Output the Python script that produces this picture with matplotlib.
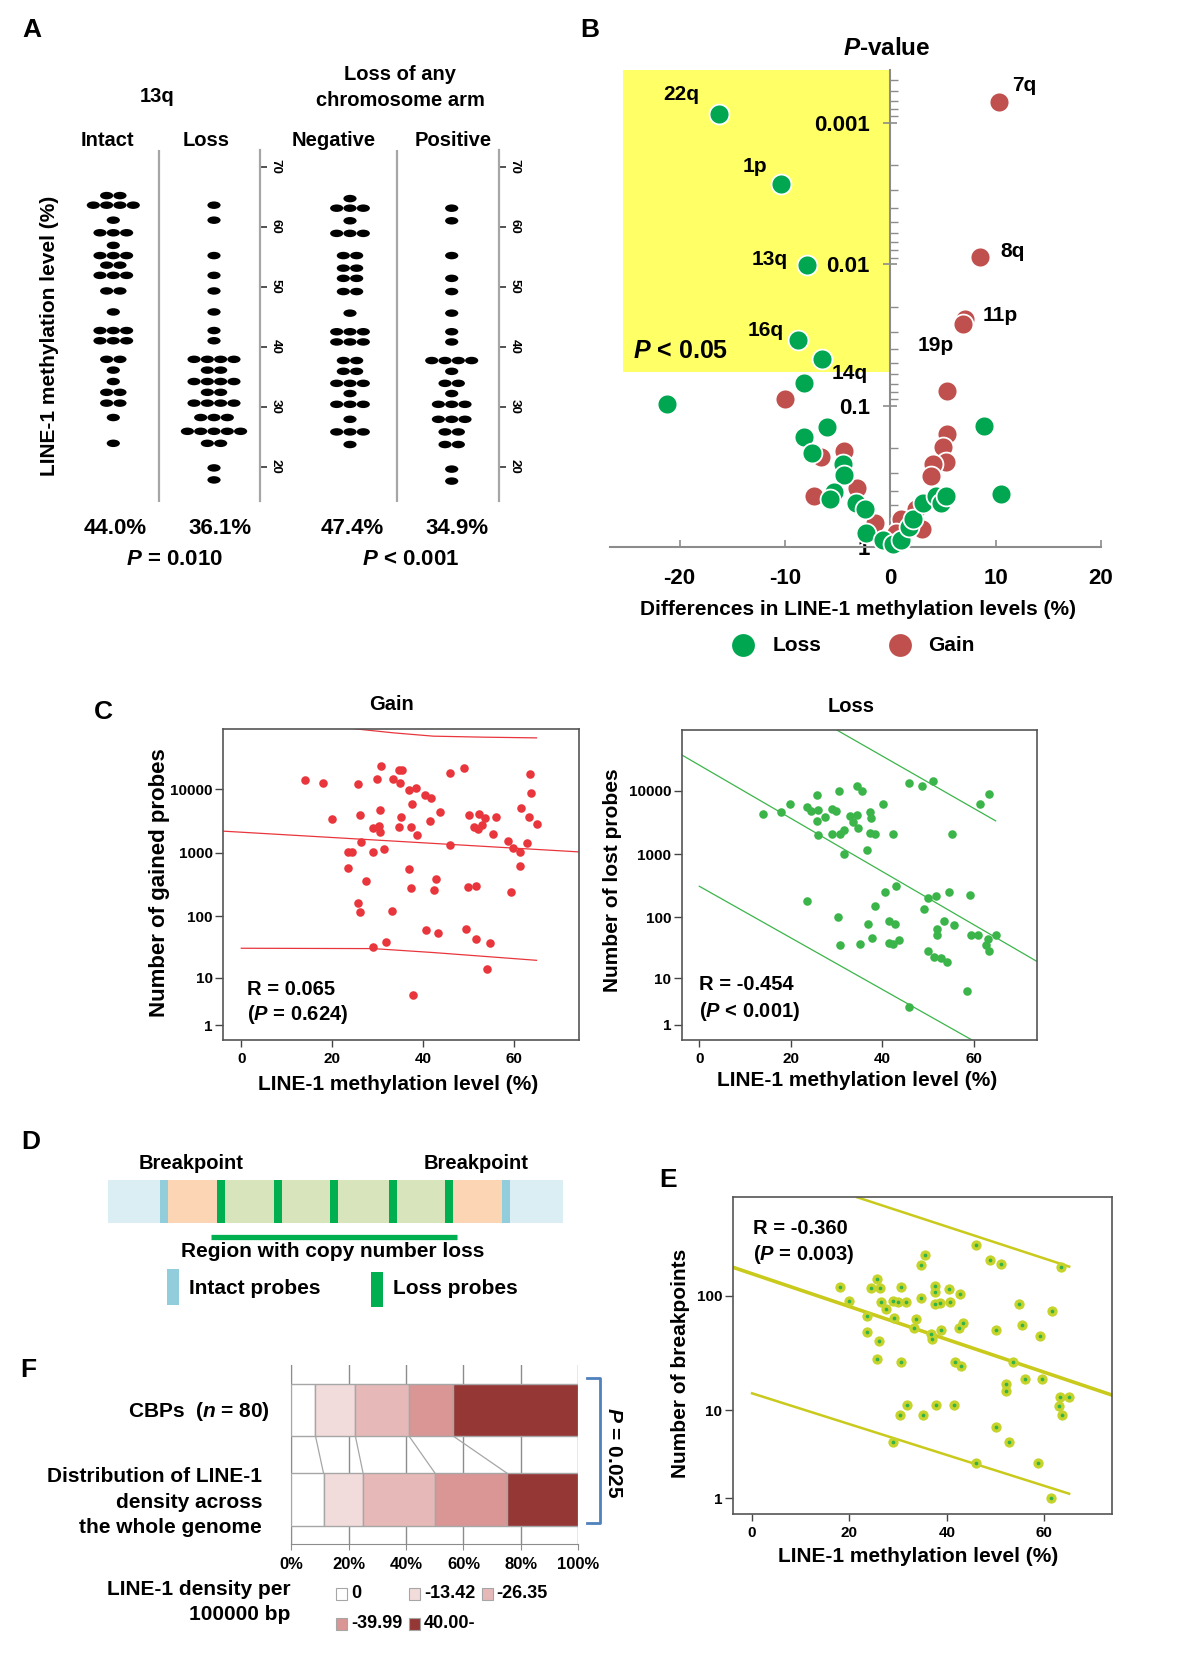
import numpy as np
import matplotlib
matplotlib.use('Agg')
import matplotlib.pyplot as plt
from matplotlib.patches import Ellipse, Rectangle
from matplotlib.ticker import LogLocator, NullFormatter

plt.rcParams['font.family'] = ['Liberation Sans', 'DejaVu Sans']
plt.rcParams['font.weight'] = 'bold'
plt.rcParams['axes.unicode_minus'] = False
plt.rcParams['mathtext.fontset'] = 'custom'
plt.rcParams['mathtext.it'] = 'Liberation Sans:italic:bold'
plt.rcParams['mathtext.rm'] = 'Liberation Sans:bold'
plt.rcParams['mathtext.bf'] = 'Liberation Sans:bold'

# ---------------- data ----------------
# A: dot plots (methylation level of each row, number of patients in the row)
intact_lv = [65.2, 63.6, 61.1, 59.0, 56.9, 55.2, 53.6, 51.9, 49.3, 45.8, 42.7, 41.0, 37.9, 36.1, 34.2, 32.4, 30.6, 28.2, 23.9]
intact_n = [2, 4, 1, 3, 1, 3, 2, 3, 2, 1, 3, 3, 2, 1, 1, 2, 2, 1, 1]
loss13_lv = [63.6, 61.1, 55.2, 51.9, 49.3, 45.8, 42.7, 41.0, 37.9, 36.1, 34.2, 32.4, 30.6, 28.2, 25.9, 23.9, 19.8, 17.8]
loss13_n = [1, 1, 1, 1, 1, 1, 1, 1, 4, 2, 4, 2, 4, 3, 5, 2, 1, 1]
neg_lv = [64.7, 63.1, 61.0, 58.9, 55.2, 53.1, 51.4, 49.2, 45.6, 42.5, 40.8, 37.7, 35.9, 33.9, 32.2, 30.4, 27.9, 25.8, 23.7]
neg_n = [1, 3, 1, 3, 2, 2, 2, 2, 1, 3, 3, 2, 2, 3, 1, 3, 1, 3, 1]
pos_lv = [63.1, 61.0, 55.2, 51.4, 49.2, 45.6, 42.5, 40.8, 37.7, 35.9, 33.9, 32.2, 30.4, 27.9, 25.8, 23.7, 19.6, 17.6]
pos_n = [1, 1, 1, 1, 1, 1, 1, 1, 4, 1, 2, 1, 3, 3, 2, 2, 1, 1]
A_groups = ['Intact', 'Loss', 'Negative', 'Positive']
A_means = ['44.0%', '36.1%', '47.4%', '34.9%']

# B: volcano plot (difference in LINE-1 methylation, P-value)
loss_diff = [-16.3, -10.4, -7.9, -8.8, -6.5, -8.2, -21.2, -6.0, -8.2, -7.4, -4.5, -4.4, -5.3, -5.7,
             -3.3, -2.4, -2.3, -0.7, 0.3, 1.0, 1.8, 2.2, 3.1, 4.3, 4.8, 5.3, 8.9, 10.5]
loss_p = [0.00087, 0.0027, 0.0102, 0.0345, 0.0465, 0.069, 0.098, 0.141, 0.166, 0.214, 0.257, 0.309, 0.407, 0.457,
          0.490, 0.537, 0.794, 0.891, 0.955, 0.891, 0.724, 0.631, 0.490, 0.437, 0.490, 0.437, 0.138, 0.417]
gain_diff = [10.3, 8.5, 7.1, 6.9, 5.4, -10.0, 5.4, 5.0, 5.3, 4.1, 3.9, -4.4, -6.6, -7.2, -3.2, -1.45, 3.05, 2.4, 1.0, 0.5]
gain_p = [0.00071, 0.0089, 0.0245, 0.0263, 0.079, 0.089, 0.158, 0.195, 0.251, 0.257, 0.316, 0.209, 0.229, 0.437,
          0.380, 0.676, 0.741, 0.537, 0.631, 0.794]
arm_labels = ['22q', '1p', '13q', '16q', '14q', '7q', '8q', '11p', '19p']
arm_lab_x = [-19.8, -12.8, -11.4, -11.85, -3.85, 12.75, 11.6, 10.4, 4.35]
arm_lab_p = [6.3e-4, 2.04e-3, 9.2e-3, 0.0293, 0.0594, 5.5e-4, 8.2e-3, 0.0231, 0.0378]

# C: number of gained / lost probes vs LINE-1 methylation
gain_x = [14.0, 17.9, 19.9, 25.7, 26.2, 26.4, 23.5, 24.4, 23.5, 27.4,
          25.7, 26.1, 29.0, 28.9, 29.8, 30.6, 30.5, 30.3, 30.5, 31.4,
          29.0, 31.8, 33.2, 33.4, 34.7, 35.4, 34.9, 35.0, 34.7, 36.8,
          38.5, 37.6, 37.4, 38.6, 36.8, 37.4, 40.4, 41.7, 41.5, 43.7,
          42.8, 42.4, 40.7, 43.2, 37.8, 45.9, 45.9, 49.0, 50.0, 51.1,
          52.2, 52.1, 52.9, 53.6, 49.9, 51.5, 49.3, 51.7, 54.7, 54.1,
          55.4, 56.0, 58.7, 59.8, 59.3, 61.2, 61.2, 61.4, 63.2, 62.9,
          63.4, 63.6, 64.9]
gain_n = [13700, 12400, 3440, 12100, 3940, 1470, 1040, 1040, 586, 356,
          163, 116, 2480, 1040, 14400, 23300, 4720, 2670, 2150, 1170,
          33, 39, 123, 14400, 19700, 19700, 12700, 3700, 2570, 9770,
          10370, 5860, 2570, 1880, 566, 279, 8140, 7220, 3160, 4390,
          383, 257, 60, 54, 5, 17900, 1355, 21500, 3880, 2540,
          4030, 2360, 2730, 3480, 289, 307, 62, 44, 37, 14,
          1950, 3610, 1530, 1190, 244, 1050, 630, 5140, 3700, 1420,
          17250, 8640, 2840]
gain_fit_x, gain_fit_n = [-4.0, 74.3], [2197, 1037]
gain_hi_x, gain_hi_n = [25.0, 33.4, 42.2, 53.2, 64.9], [88500, 76600, 67900, 65500, 63800]
gain_lo_x, gain_lo_n = [0.0, 29.0, 42.2, 64.9], [31.0, 30.6, 26.4, 19.7]

loss_x = [14.0, 17.9, 19.8, 23.5, 24.4, 25.9, 25.8, 27.5, 26.0, 25.7,
          28.9, 29.9, 28.9, 30.4, 30.8, 31.5, 31.7, 32.9, 33.5, 34.4,
          35.5, 34.5, 34.6, 37.3, 37.5, 37.3, 38.4, 36.7, 40.2, 42.3,
          45.7, 48.6, 51.0, 55.2, 61.2, 63.2,
          23.5, 30.2, 30.8, 35.0, 36.8, 38.4, 37.7, 40.6, 43.0, 41.5,
          42.8, 41.5, 42.4, 43.7, 45.7, 49.9, 51.6, 49.1, 51.9, 52.0,
          53.4, 54.5, 55.7, 49.9, 51.3, 52.8, 54.1, 59.0, 59.3, 60.9,
          63.0, 62.7, 63.2, 64.7, 58.5]
loss_n = [4260, 4580, 6140, 5570, 4750, 4930, 3340, 3860, 1980, 8530,
          5110, 4750, 2100, 9880, 2100, 2370, 1010, 3960, 3220, 11860,
          9880, 4110, 2590, 4530, 3640, 2180, 2100, 1140, 6140, 2100,
          13070, 11860, 14420, 2100, 6140, 8750,
          183, 99, 36, 37, 79, 149, 47, 254, 309, 88,
          79, 39, 37, 43, 2.9, 202, 214, 135, 64, 52,
          86, 254, 76, 28, 23, 22, 19, 225, 52, 52,
          44, 36, 28, 52, 5.9]
loss_fit_x, loss_fit_n = [-3.86, 73.9], [36800, 18.8]
loss_hi_x, loss_hi_n = [29.9, 64.7], [91800, 3340]
loss_lo_x, loss_lo_n = [0.0, 60.1], [309, 0.10]

# E: number of breakpoints vs LINE-1 methylation
bp_x = [18.0, 19.9, 23.5, 23.5, 24.4, 25.6, 26.2, 26.4, 26.0, 25.6,
        27.5, 29.0, 29.2, 30.0, 30.5, 31.5, 30.5, 28.9, 30.4, 31.8,
        33.3, 33.6, 34.6, 34.7, 35.5, 35.0, 36.7, 36.9, 37.5, 37.6,
        37.5, 38.5, 38.8, 37.8, 40.5, 40.7, 42.7, 42.4, 43.4, 41.7,
        42.8, 41.5, 45.9, 45.9, 48.9, 50.1, 50.1, 51.1, 52.1, 52.1,
        52.7, 53.5, 54.8, 55.4, 56.1, 59.2, 59.6, 61.5, 58.7, 63.4,
        63.2, 63.0, 63.6, 65.1, 61.3]
bp_n = [120, 91, 68, 49, 116, 138, 116, 88, 41, 29,
        77, 91, 65, 88, 120, 89, 27, 5.0, 9.1, 11.1,
        53, 63, 95, 183, 221, 9.1, 47, 43, 121, 107,
        86, 87, 51, 11.1, 115, 88, 103, 53, 59, 27,
        25, 11.1, 270, 3.0, 201, 51, 7.0, 186, 17.3, 15.1,
        5.0, 27, 86, 57, 19.1, 45, 19.1, 75, 3.0, 174,
        13.2, 11.0, 9.1, 13.2, 1.0]
bp_fit_x, bp_fit_n = [-3.97, 74.3], [174.8, 13.6]
bp_hi_x, bp_hi_n = [21.6, 65.1], [680, 177]
bp_lo_x, bp_lo_n = [0.0, 65.1], [14.3, 1.19]

# D: schematic positions along the chromosome (0-100)
intact_probe_pos = [11.4, 86.7]
loss_probe_pos = [23.9, 36.4, 48.8, 61.7, 74.1]
probe_w = 1.8

# F: LINE-1 density classes (%)
dens_classes = ['0', '-13.42', '-26.35', '-39.99', '40.00-']
dens_colors = ['#ffffff', '#f2dcdb', '#e6b9b8', '#d99694', '#953735']
cbp_pct = [8.4, 13.9, 18.7, 15.4, 43.6]
genome_pct = [11.2, 13.8, 25.1, 25.1, 24.8]

# ---------------- figure ----------------
W, H = 1200, 1655
fig = plt.figure(figsize=(12, 16.55), dpi=100)


def box(x0, y0, x1, y1):
    return fig.add_axes([x0 / W, 1 - y1 / H, (x1 - x0) / W, (y1 - y0) / H])


ov = fig.add_axes([0, 0, 1, 1])
ov.set_xlim(0, W)
ov.set_ylim(H, 0)
ov.axis('off')
ov.patch.set_alpha(0)
ov.set_zorder(10)


def T(x, y, s, size=15, ha='center', va='center', **kw):
    ov.text(x, y, s, fontsize=size, ha=ha, va=va, fontweight='bold', **kw)


for lab, x, y in [('A', 32, 30), ('B', 590, 30), ('C', 103, 712), ('D', 31, 1142), ('E', 668, 1180), ('F', 28, 1370)]:
    T(x, y, lab, 19)

# ---- A ----
def dot_column(ax, cx, levels, counts):
    for lv, n in zip(levels, counts):
        for k in range(n):
            ax.add_patch(Ellipse((cx + (k - (n - 1) / 2) * 13.3, lv), 13.2, 1.25, color='black', lw=0))


for x0, x1, sep, cols in [(60, 260, 159, [(113.3, intact_lv, intact_n), (214, loss13_lv, loss13_n)]),
                          (300, 499, 396.7, [(350, neg_lv, neg_n), (451.7, pos_lv, pos_n)])]:
    ax = box(x0, 150, x1, 501.5)
    ax.set_xlim(x0, x1)
    ax.set_ylim(14.2, 72.8)
    ax.patch.set_alpha(0)
    ax.axvline(sep, color='#a6a6a6', lw=1.6)
    for s in ['left', 'top', 'bottom']:
        ax.spines[s].set_visible(False)
    ax.spines['right'].set_color('#a6a6a6')
    ax.spines['right'].set_linewidth(1.6)
    ax.yaxis.tick_right()
    ax.set_xticks([])
    ax.set_yticks(range(20, 71, 10))
    ax.tick_params(axis='y', direction='out', length=5, width=1.2, color='#333333', labelsize=9.5, pad=2)
    for lab in ax.get_yticklabels():
        lab.set_rotation(270)
        lab.set_va('center')
    for cx, lv, n in cols:
        dot_column(ax, cx, lv, n)

T(157, 97, '13q', 14.5)
T(400, 75, 'Loss of any', 14.5)
T(400, 100, 'chromosome arm', 14.5)
for g, x in zip(A_groups, [107.5, 206, 334, 453]):
    T(x, 140, g, 14.5)
for m, x in zip(A_means, [115, 219.6, 351.8, 457]):
    T(x, 528, m, 16)
T(175, 559.5, '$P$ = 0.010', 16)
T(410.7, 559.5, '$P$ < 0.001', 16)
T(50, 336, 'LINE-1 methylation level (%)', 15, rotation=90)

# ---- B ----
axB = box(610, 70.3, 1101, 547.3)
axB.patch.set_alpha(0)
axB.set_xlim(-26.6, 20)
axB.set_yscale('log')
axB.set_ylim(1, 4.27e-4)
axB.fill_between([-25.4, -0.1], 0.058, 4.27e-4, color='#ffff66', lw=0, zorder=0)
axB.scatter(gain_diff, gain_p, s=205, c='#c0504d', edgecolors='white', linewidths=1.3, zorder=3, clip_on=False)
axB.scatter(loss_diff, loss_p, s=205, c='#00a650', edgecolors='white', linewidths=1.3, zorder=4, clip_on=False)
for s in ['top', 'right']:
    axB.spines[s].set_visible(False)
axB.spines['left'].set_position(('data', 0))
for s in ['left', 'bottom']:
    axB.spines[s].set_color('#8c8c8c')
    axB.spines[s].set_linewidth(1.5)
axB.set_xticks([-20, -10, 0, 10, 20])
axB.set_yticks([1e-3, 1e-2, 1e-1, 1])
axB.set_yticklabels(['0.001', '0.01', '0.1', '1'])
axB.yaxis.set_minor_locator(LogLocator(base=10, subs=np.arange(2, 10)))
axB.yaxis.set_minor_formatter(NullFormatter())
axB.tick_params(axis='y', which='major', direction='inout', length=9.5, width=1.2, color='#8c8c8c', labelsize=16, pad=10)
axB.tick_params(axis='y', which='minor', direction='in', length=5.5, width=1, color='#8c8c8c')
axB.tick_params(axis='x', direction='in', length=5, width=1.2, color='#8c8c8c', labelsize=16, pad=15)
for lab, x, p in zip(arm_labels, arm_lab_x, arm_lab_p):
    axB.text(x, p, lab, fontsize=15, ha='center', va='center', fontweight='bold', zorder=5)
axB.text(-19.9, 0.0412, '$P$ < 0.05', fontsize=18, ha='center', va='center', fontweight='bold')
T(887, 48.6, '$P$-value', 17.5)
T(858.5, 609.3, 'Differences in LINE-1 methylation levels (%)', 15)
ov.scatter([742.8], [645.3], s=270, c='#00a650', lw=0)
ov.scatter([900.3], [645.3], s=270, c='#c0504d', lw=0)
T(772.9, 645.3, 'Loss', 15, ha='left')
T(928.4, 645.3, 'Gain', 15, ha='left')

# ---- C and E ----
def fwd(v):
    return np.log10(np.clip(v, 0, None) + 1)


def inv(v):
    return 10.0 ** np.asarray(v) - 1


def scat_axes(px, xlim, ylim, yt):
    ax = box(*px)
    ax.set_yscale('function', functions=(fwd, inv))
    ax.set_xlim(*xlim)
    ax.set_ylim(*ylim)
    ax.set_xticks([0, 20, 40, 60])
    ax.set_yticks(yt)
    ax.set_yticklabels([str(t) for t in yt])
    ax.yaxis.set_minor_locator(matplotlib.ticker.NullLocator())
    ax.tick_params(axis='y', direction='out', length=6, width=1, color='#444444', labelsize=11, pad=1.5)
    ax.tick_params(axis='x', direction='out', length=5, width=1, color='#444444', labelsize=11, pad=3.5)
    for s in ax.spines.values():
        s.set_color('#555555')
        s.set_linewidth(1.2)
    return ax


axCg = scat_axes((223.3, 729.3, 579.3, 1040), (-3.96, 74.3), (0.164, 87000), [1, 10, 100, 1000, 10000])
axCg.scatter(gain_x, gain_n, s=38, c='#e8363c', lw=0, zorder=3)
for lx, ly in [(gain_fit_x, gain_fit_n), (gain_hi_x, gain_hi_n), (gain_lo_x, gain_lo_n)]:
    axCg.plot(lx, ly, color='#e8363c', lw=0.9)

axCl = scat_axes((681.7, 730, 1037.3, 1040), (-3.84, 73.8), (0.159, 90800), [1, 10, 100, 1000, 10000])
axCl.scatter(loss_x, loss_n, s=38, c='#3bb54a', lw=0, zorder=3)
for lx, ly in [(loss_fit_x, loss_fit_n), (loss_hi_x, loss_hi_n), (loss_lo_x, loss_lo_n)]:
    axCl.plot(lx, ly, color='#3bb54a', lw=0.9)

T(391, 704, 'Gain', 14.5)
T(851, 707, 'Loss', 14.5)
T(160, 883, 'Number of gained probes', 16, rotation=90)
T(612, 880, 'Number of lost probes', 15, rotation=90)
T(398, 1085, 'LINE-1 methylation level (%)', 15)
T(857, 1081, 'LINE-1 methylation level (%)', 15)
T(246.7, 989.3, 'R = 0.065', 14.5, ha='left')
T(246.7, 1014.3, '($P$ = 0.624)', 14.5, ha='left')
T(699.3, 984.3, 'R = -0.454', 14.5, ha='left')
T(699.3, 1011.7, '($P$ < 0.001)', 14.5, ha='left')

axE = scat_axes((732.8, 1197.3, 1112, 1514.3), (-3.96, 73.9), (0.47, 680), [1, 10, 100])
axE.scatter(bp_x, bp_n, s=55, c='#c5d32a', lw=0, zorder=3)
axE.scatter(bp_x, bp_n, s=7, c='#33b24a', lw=0, zorder=4)
axE.plot(bp_fit_x, bp_fit_n, color='#c9ca1c', lw=2.6)
axE.plot(bp_hi_x, bp_hi_n, color='#c9ca1c', lw=1.8)
axE.plot(bp_lo_x, bp_lo_n, color='#c9ca1c', lw=1.8)
T(753.2, 1228.3, 'R = -0.360', 14.5, ha='left')
T(753.2, 1254, '($P$ = 0.003)', 14.5, ha='left')
T(681, 1363.3, 'Number of breakpoints', 15, rotation=90)
T(917.8, 1556.7, 'LINE-1 methylation level (%)', 15)

# ---- D ----
axD = box(108.3, 1180, 562.6, 1222.7)
axD.set_xlim(0, 100)
axD.set_ylim(0, 1)
axD.axis('off')
axD.add_patch(Rectangle((0, 0), 100, 1, color='#dbeef4', lw=0))
axD.add_patch(Rectangle((intact_probe_pos[0] + probe_w, 0), intact_probe_pos[1] - intact_probe_pos[0] - probe_w, 1,
                        color='#fcd5b4', lw=0))
axD.add_patch(Rectangle((loss_probe_pos[0] + probe_w, 0), loss_probe_pos[-1] - loss_probe_pos[0] - probe_w, 1,
                        color='#d8e4bc', lw=0))
for p in intact_probe_pos:
    axD.add_patch(Rectangle((p, 0), probe_w, 1, color='#92cddc', lw=0))
for p in loss_probe_pos:
    axD.add_patch(Rectangle((p, 0), probe_w, 1, color='#00b050', lw=0))
axD.plot([22.7, 76.8], [-0.33, -0.33], color='#00b050', lw=3.8, clip_on=False, solid_capstyle='butt')
T(191.3, 1163.3, 'Breakpoint', 14.5)
T(476.5, 1163.3, 'Breakpoint', 14.5)
T(333, 1251.7, 'Region with copy number loss', 15)
ov.add_patch(Rectangle((167.2, 1269.3), 11.5, 35.7, color='#92cddc', lw=0))
ov.add_patch(Rectangle((371.2, 1271.7), 11.5, 35.6, color='#00b050', lw=0))
T(189.4, 1289, 'Intact probes', 15, ha='left')
T(393, 1289, 'Loss probes', 15, ha='left')

# ---- F ----
axF = box(291.4, 1365, 578.2, 1544.3)
axF.set_xlim(0, 100)
axF.set_ylim(-0.5, 1.5)
bh = 0.585
cbp_cum = np.concatenate([[0], np.cumsum(cbp_pct)])
gen_cum = np.concatenate([[0], np.cumsum(genome_pct)])
for i in range(5):
    axF.barh(1, cbp_pct[i], left=cbp_cum[i], height=bh, color=dens_colors[i], edgecolor='#a6a6a6', lw=1, zorder=3)
    axF.barh(0, genome_pct[i], left=gen_cum[i], height=bh, color=dens_colors[i], edgecolor='#a6a6a6', lw=1, zorder=3)
for i in range(1, 5):
    axF.plot([cbp_cum[i], gen_cum[i]], [1 - bh / 2, bh / 2], color='#a6a6a6', lw=0.9, zorder=2)
axF.set_xticks([0, 20, 40, 60, 80, 100])
axF.set_xticklabels(['0%', '20%', '40%', '60%', '80%', '100%'])
axF.set_yticks([])
axF.xaxis.grid(True, color='#8c8c8c', lw=1)
axF.set_axisbelow(True)
for s in ['top', 'right']:
    axF.spines[s].set_visible(False)
for s in ['left', 'bottom']:
    axF.spines[s].set_color('#8c8c8c')
axF.tick_params(axis='x', length=4, color='#8c8c8c', labelsize=12, pad=5)
axF.patch.set_alpha(0)

T(270, 1411.7, 'CBPs  ($n$ = 80)', 15, ha='right')
for line, y in zip(['Distribution of LINE-1', 'density across', 'the whole genome'], [1476.7, 1502.7, 1527.7]):
    T(262.2, y, line, 15, ha='right')
T(290.6, 1589.3, 'LINE-1 density per', 15, ha='right')
T(290.6, 1614.3, '100000 bp', 15, ha='right')
leg_pos = [(336, 1594), (409, 1594), (481.6, 1594), (336, 1624), (409, 1624)]
for (lx, ly), c, lab in zip(leg_pos, dens_colors, dens_classes):
    ov.add_patch(Rectangle((lx, ly - 5.8), 11, 11.7, facecolor=c, edgecolor='#a6a6a6', lw=0.8))
    T(lx + 15, ly, lab, 13, ha='left')
ov.plot([587.3, 600, 600, 587.3], [1378.3, 1378.3, 1523.3, 1523.3], color='#4f81bd', lw=2)
T(613.3, 1453, '$P$ = 0.025', 15, rotation=270)

fig.savefig('out.png', dpi=100)
